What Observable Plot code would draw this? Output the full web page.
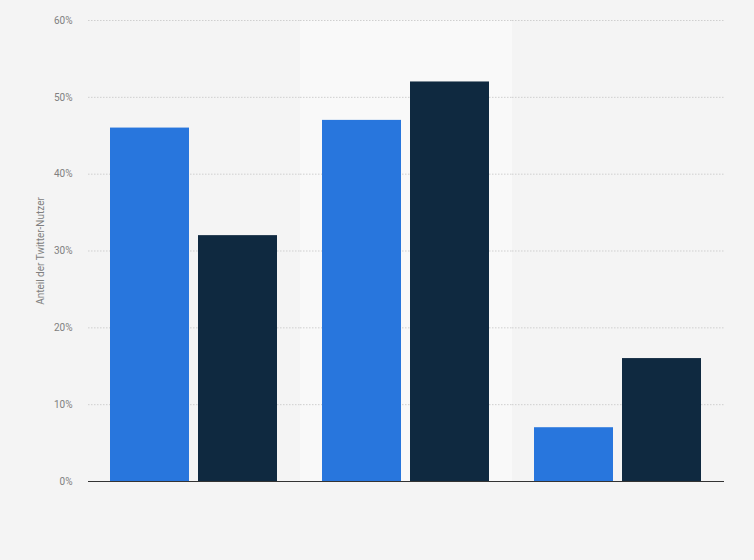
<!DOCTYPE html>
<html>
<head>
<meta charset="utf-8">
<script src="https://cdn.jsdelivr.net/npm/d3@7"></script>
<script src="https://cdn.jsdelivr.net/npm/@observablehq/plot@0.6"></script>
<style>
  html, body { margin: 0; padding: 0; background: #f4f4f4; }
  #chart svg { display: block; }
</style>
</head>
<body>
<div id="chart"></div>
<script>
const groups = ["Kategorie 1", "Kategorie 2", "Kategorie 3"];
const series = ["Serie A", "Serie B"];
const seriesAValues = [46, 47, 7];
const seriesBValues = [32, 52, 16];
const yTicks = [0, 10, 20, 30, 40, 50, 60];
const highlightGroup = [groups[1]];
const seriesColors = ["#2876dd", "#0f2940"];

const data = [];
groups.forEach((g, i) => {
  data.push({group: g, series: series[0], value: seriesAValues[i]});
  data.push({group: g, series: series[1], value: seriesBValues[i]});
});

const chart = Plot.plot({
  width: 754,
  height: 560,
  marginLeft: 88,
  marginRight: 30,
  marginTop: 20,
  marginBottom: 79,
  style: {background: "#f4f4f4", fontFamily: "Roboto, sans-serif", fontSize: "10px"},
  fx: {domain: groups, padding: 0, axis: null},
  x: {domain: series, paddingInner: 0.1, paddingOuter: 0.25, axis: null},
  y: {domain: [0, 60], ticks: yTicks},
  color: {domain: series, range: seriesColors},
  marks: [
    Plot.rect(highlightGroup.map(g => ({group: g})), {fx: "group", y1: 0, y2: 60, fill: "#f9f9f9"}),
    Plot.gridY(yTicks, {stroke: "#cfcfcf", strokeOpacity: 1, strokeDasharray: "1.5,1.5", strokeWidth: 1}),
    Plot.axisY(yTicks, {
      tickSize: 0,
      tickPadding: 16,
      tickFormat: d => d + "%",
      fill: "#808080",
      label: "Anteil der Twitter-Nutzer",
      labelAnchor: "center",
      labelArrow: "none",
      labelOffset: 52
    }),
    Plot.barY(data, {fx: "group", x: "series", y: "value", fill: "series"}),
    Plot.ruleY([0], {stroke: "#333", strokeWidth: 1})
  ]
});
document.getElementById("chart").appendChild(chart);
</script>
</body>
</html>
